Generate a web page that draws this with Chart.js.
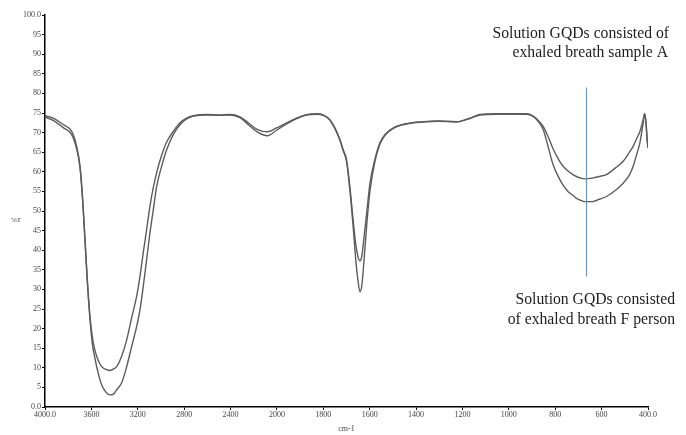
<!DOCTYPE html>
<html><head><meta charset="utf-8">
<script src="https://cdn.jsdelivr.net/npm/chart.js@4/dist/chart.umd.min.js"></script>
<style>html,body{margin:0;padding:0;background:#fff;} #wrap{width:686px;height:435px;position:relative;}</style>
</head><body><div id="wrap"><canvas id="c" width="686" height="435"></canvas></div>
<script>
// Wavenumber (cm-1)
const wavenumbers = [4000,3930,3840,3770,3727,3698,3675,3655,3635,3612,3590,3570,3540,3511,3475,3440,3410,3382,3340,3300,3253,3210,3181,3153,3124,3095,3066,3037,2994,2951,2894,2836,2779,2720,2600,2500,2400,2319,2247,2175,2083,2003,1958,1915,1872,1822,1793,1772,1750,1728,1714,1700,1685,1672,1660,1651,1642,1634,1625,1612,1599,1578,1556,1534,1498,1441,1369,1305,1226,1168,1125,1053,924,895,873,852,831,809,780,766,745,724,708,690,672,640,610,579,540,507,480,464,450,435,422,414,408,404,400];
// %T, solution GQDs with exhaled breath sample A (upper trace)
const sampleA = [74.3,73.7,72.0,70.3,66.5,61.4,52.9,42.7,32.4,23.1,17.5,14.5,11.8,10.3,9.6,9.3,9.7,10.3,12.9,16.6,22.7,28.2,33.3,39.3,45.2,51.2,56.0,59.8,64.2,67.6,70.3,72.5,73.7,74.3,74.6,74.5,74.6,74.0,72.5,70.9,70.2,71.2,72.5,73.7,74.6,74.8,74.3,73.3,71.2,68.2,65.6,63.1,56.0,48.0,41.5,38.5,37.3,38.5,43.0,50.0,57.0,63.1,67.4,69.5,71.2,72.3,72.8,73.0,72.8,73.7,74.6,74.8,74.8,74.2,73.1,71.6,69.0,65.8,62.6,61.4,60.2,59.3,58.8,58.4,58.2,58.4,58.8,59.3,61.0,62.7,65.0,66.5,68.3,70.3,73.0,74.8,72.0,68.5,66.1];
// %T, solution GQDs with exhaled breath of person F (lower trace)
const personF = [74.0,73.1,71.2,69.5,65.8,61.0,52.6,42.4,32.0,22.3,15.8,12.5,8.5,5.6,3.8,3.1,3.3,4.4,6.1,9.8,15.4,20.5,24.8,30.7,37.5,44.4,50.3,56.3,61.4,65.6,69.5,72.0,73.5,74.2,74.5,74.4,74.5,73.8,72.0,70.3,69.2,70.6,72.2,73.6,74.5,74.7,74.2,73.2,71.0,68.0,65.3,62.7,55.0,46.5,37.5,32.5,29.4,31.0,37.0,47.0,55.0,62.5,67.0,69.3,71.1,72.2,72.7,72.9,72.7,73.6,74.5,74.7,74.7,74.1,72.8,70.8,66.5,61.8,58.0,56.6,55.0,54.0,53.2,52.7,52.4,52.4,53.0,53.7,55.3,57.1,59.2,61.4,64.2,67.4,72.0,74.8,72.0,68.5,66.1];
const xTickValues = [4000,3600,3200,2800,2400,2000,1800,1600,1400,1200,1000,800,600,400];
const yTickValues = [0,5,10,15,20,25,30,35,40,45,50,55,60,65,70,75,80,85,90,95,100];
const xTitle = 'cm-1';
const yTitle = '%T';
const noteTop = ['Solution GQDs consisted of', 'exhaled breath sample A'];
const noteBottom = ['Solution GQDs consisted', 'of exhaled breath F person'];
const markerWavenumber = 668;
const markerRange = [33.3, 81.5];

// FTIR axis: scale doubles below 2000 cm-1
function toAxis(w){ return w > 2000 ? 2000 + (w - 2000) / 2 : w; }
function fromAxis(u){ return u > 2000 ? 2000 + (u - 2000) * 2 : u; }

const lineColor = '#5c5c5c';
const tickFont = {family: 'Liberation Serif', size: 8};

const annot = {
  id: 'annot',
  afterDraw(chart) {
    const ctx = chart.ctx, x = chart.scales.x, y = chart.scales.y, ca = chart.chartArea;
    ctx.save();
    const mx = Math.round(x.getPixelForValue(toAxis(markerWavenumber))) + 0.5;
    ctx.strokeStyle = '#5b9bd5';
    ctx.lineWidth = 1.2;
    ctx.beginPath();
    ctx.moveTo(mx, y.getPixelForValue(markerRange[1]));
    ctx.lineTo(mx, y.getPixelForValue(markerRange[0]));
    ctx.stroke();
    ctx.fillStyle = '#1e1e1e';
    ctx.font = '15.7px "Liberation Serif"';
    ctx.textAlign = 'right';
    ctx.textBaseline = 'middle';
    ctx.fillText(noteTop[0], ca.right + 21, 34);
    ctx.fillText(noteTop[1], ca.right + 20, 53);
    ctx.fillText(noteBottom[0], ca.right + 27, 300);
    ctx.fillText(noteBottom[1], ca.right + 27, 320);
    ctx.font = '7px "Liberation Serif"';
    ctx.fillStyle = '#444';
    ctx.textAlign = 'center';
    ctx.fillText(yTitle, ca.left - 29, 220);
    ctx.restore();
  }
};

new Chart(document.getElementById('c'), {
  type: 'line',
  data: {
    datasets: [
      {label: 'Sample A', data: wavenumbers.map((w, i) => ({x: toAxis(w), y: sampleA[i]})),
       borderColor: lineColor, borderWidth: 1.4, pointRadius: 0, fill: false, cubicInterpolationMode: 'monotone'},
      {label: 'Person F', data: wavenumbers.map((w, i) => ({x: toAxis(w), y: personF[i]})),
       borderColor: lineColor, borderWidth: 1.4, pointRadius: 0, fill: false, cubicInterpolationMode: 'monotone'}
    ]
  },
  options: {
    responsive: false,
    animation: false,
    devicePixelRatio: 1,
    layout: {padding: {left: 0, right: 38, top: 15, bottom: 0}},
    plugins: {legend: {display: false}, tooltip: {enabled: false}},
    scales: {
      x: {
        type: 'linear', min: 400, max: 3000, reverse: true,
        afterBuildTicks: s => { s.ticks = xTickValues.map(w => ({value: toAxis(w)})); },
        afterFit: s => { s.height = 28; },
        grid: {display: true, drawOnChartArea: false, drawTicks: true, tickLength: 3, color: '#000'},
        border: {display: true, color: '#000', width: 1.5},
        ticks: {
          font: tickFont, color: '#444', padding: 0, maxRotation: 0, autoSkip: false,
          callback: v => { const w = Math.round(fromAxis(v)); return (w === 4000 || w === 400) ? w.toFixed(1) : String(w); }
        },
        title: {display: true, text: xTitle, font: {family: 'Liberation Serif', size: 8}, color: '#444', padding: {top: 0, bottom: 1}}
      },
      y: {
        min: 0, max: 100,
        afterBuildTicks: s => { s.ticks = yTickValues.map(v => ({value: v})); },
        afterFit: s => { s.width = 45; },
        grid: {display: true, drawOnChartArea: false, drawTicks: true, tickLength: 3, color: '#000'},
        border: {display: true, color: '#000', width: 1.5},
        ticks: {
          font: tickFont, color: '#444', padding: 1,
          callback: v => (v === 0 || v === 100) ? v.toFixed(1) : String(v)
        }
      }
    }
  },
  plugins: [annot]
});
</script>
</body></html>
